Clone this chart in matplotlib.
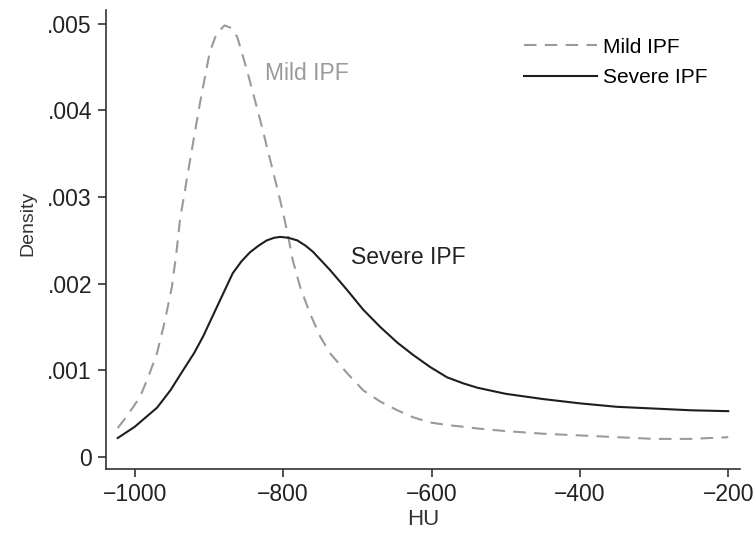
import matplotlib
matplotlib.use('Agg')
import matplotlib.pyplot as plt
import numpy as np
from matplotlib.ticker import FuncFormatter

plt.rcParams['font.family'] = ['Liberation Sans', 'DejaVu Sans']

# curves (HU, density)
mild_hu = [-1023, -1010, -993, -982, -970, -960, -950, -944, -939, -926,
           -912, -899, -890, -879, -870, -862, -849, -831, -814, -800, -791,
           -787, -777, -764, -750, -737, -714, -692, -669, -646, -625, -602,
           -579, -557, -538, -500, -450, -400, -350, -300, -250, -200]
mild_d = [0.000335, 0.00048, 0.000693, 0.00092, 0.0012, 0.00155, 0.00196,
          0.00235, 0.00274, 0.0034, 0.00409, 0.00467, 0.00488, 0.00498,
          0.00495, 0.00485, 0.00447, 0.00389, 0.00331, 0.00282, 0.00245,
          0.00227, 0.00196, 0.00166, 0.00139, 0.0012, 0.00097, 0.00077,
          0.00064, 0.00054, 0.00046, 0.0004, 0.00037, 0.00035, 0.00033,
          0.0003, 0.00027, 0.00025, 0.00023, 0.00021, 0.00021, 0.00023]

severe_hu = [-1023, -1000, -985, -970, -952, -935, -920, -908, -885, -868,
             -856, -845, -833, -822, -812, -804, -793, -781, -770, -760,
             -737, -714, -692, -669, -646, -625, -602, -579, -557, -538,
             -500, -450, -400, -350, -300, -250, -200]
severe_d = [0.00022, 0.00035, 0.00046, 0.00057, 0.00077, 0.001, 0.0012,
            0.00139, 0.00181, 0.00212, 0.00226, 0.00236, 0.00244, 0.0025,
            0.00253, 0.00254, 0.00253, 0.0025, 0.00244, 0.00237, 0.00216,
            0.00193, 0.0017, 0.0015, 0.00132, 0.00118, 0.00104, 0.00092,
            0.00085, 0.0008, 0.00073, 0.00067, 0.00062, 0.00058, 0.00056,
            0.00054, 0.00053]

xticks = [-1000, -800, -600, -400, -200]
yticks = [0, 0.001, 0.002, 0.003, 0.004, 0.005]

fig = plt.figure(figsize=(7.56, 5.43), dpi=100)
ax = fig.add_axes([0.140, 0.136, 0.839, 0.846])

ax.plot(mild_hu, mild_d, color='#9a9a9a', lw=1.5, dashes=(6, 4),
        label='Mild IPF')
ax.plot(severe_hu, severe_d, color='#1e1e1e', lw=1.5, label='Severe IPF')

ax.text(-825, 0.00443, 'Mild IPF', color='#9a9a9a', fontsize=16.5,
        va='center')
ax.text(-708, 0.0023, 'Severe IPF', color='#222222', fontsize=16.5,
        va='center')

ax.set_xlim(-1039, -184)
ax.set_ylim(-0.000139, 0.00516)
ax.set_xticks(xticks)
ax.set_yticks(yticks)


def yfmt(v, pos):
    if abs(v) < 1e-12:
        return '0'
    return ('%.3f' % v).lstrip('0')


ax.yaxis.set_major_formatter(FuncFormatter(yfmt))
ax.xaxis.set_major_formatter(FuncFormatter(lambda v, p: '\u2212%d' % abs(v)))

for s in ['top', 'right']:
    ax.spines[s].set_visible(False)
for s in ['left', 'bottom']:
    ax.spines[s].set_color('#333333')
    ax.spines[s].set_linewidth(1.2)
ax.tick_params(direction='out', length=6, width=1.2, color='#333333',
               labelsize=16.5, labelcolor='#222222', pad=4)

ax.set_xlabel('HU', fontsize=16, color='#333333', labelpad=2)
ax.set_ylabel('Density', fontsize=14, color='#333333')
ax.yaxis.set_label_coords(-0.11, 0.535)

ax.legend(loc='upper left', bbox_to_anchor=(0.63, 0.98), frameon=False,
          fontsize=15, handlelength=3.5, handletextpad=0.3, labelspacing=0.55)

fig.savefig('out.png', dpi=100)
